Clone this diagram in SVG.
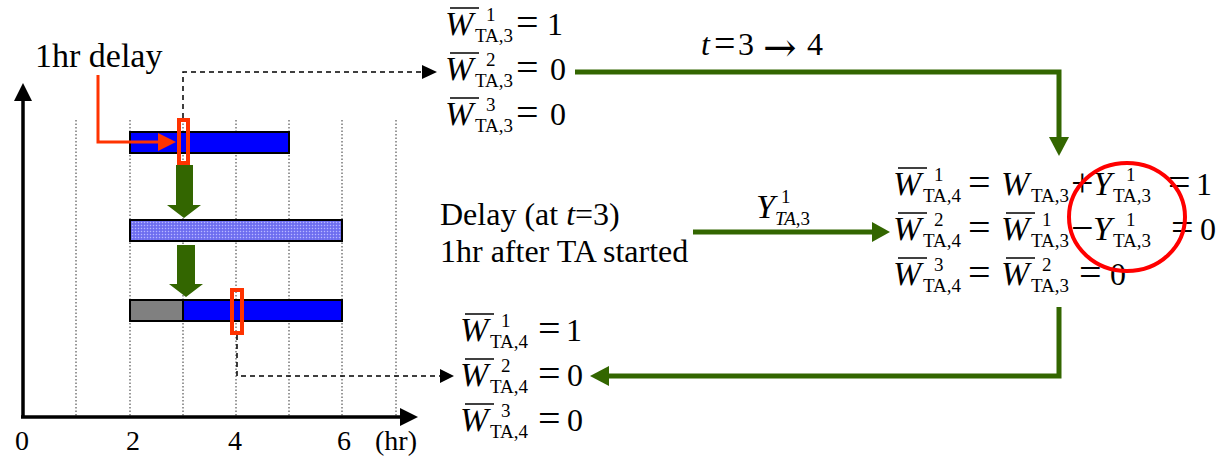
<svg xmlns="http://www.w3.org/2000/svg" width="1224" height="460" viewBox="0 0 1224 460" font-family="'Liberation Serif', 'Times New Roman', serif">
<style>
.t{font-family:"Liberation Serif","Times New Roman",serif;fill:#000}
.m{font-size:34px}
.e{font-size:40px}
.e2{font-size:38px}
.d{font-size:32px}
.s{font-size:19px}
.i{font-style:italic}
.lbl{font-size:32px}
.big{font-size:34px}
.ax{font-size:28px}
.arr{font-family:"DejaVu Serif","DejaVu Sans",serif;font-size:40px;fill:#000}
.ob{stroke:#000;stroke-width:1.5}
.grid{stroke:#333;stroke-width:1;stroke-dasharray:1.5,2}
.bar{stroke:#000;stroke-width:2}
.red{fill:none;stroke:#ff3300;stroke-width:4}
.dash{fill:none;stroke:#000;stroke-width:1.5;stroke-dasharray:5,4}
.gl{fill:none;stroke:#336600;stroke-width:5}
.gf{fill:#336600}
</style>
<defs>
<pattern id="dots" width="3" height="3" patternUnits="userSpaceOnUse">
<rect width="3" height="3" fill="#7a7af4"/>
<rect x="0" y="0" width="1" height="1" fill="#b8b8ff"/>
<rect x="1.5" y="1.5" width="1" height="1" fill="#4a4ae2"/>
</pattern>
</defs>

<g id="chart">
<g id="grid">
<line class="grid" x1="76" y1="120" x2="76" y2="416"/>
<line class="grid" x1="130" y1="120" x2="130" y2="416"/>
<line class="grid" x1="183" y1="120" x2="183" y2="416"/>
<line class="grid" x1="236" y1="120" x2="236" y2="416"/>
<line class="grid" x1="289" y1="120" x2="289" y2="416"/>
<line class="grid" x1="342" y1="120" x2="342" y2="416"/>
<line class="grid" x1="396" y1="120" x2="396" y2="416"/>
</g>
<g id="axes">
<line x1="23" y1="418" x2="23" y2="98" stroke="#000" stroke-width="3.5"/>
<polygon points="23,83 14,101 32,101" fill="#000"/>
<line x1="21" y1="417" x2="402" y2="417" stroke="#000" stroke-width="3.5"/>
<polygon points="418,417 400,408 400,426" fill="#000"/>
<text class="t ax" x="15" y="450">0</text>
<text class="t ax" x="126" y="450">2</text>
<text class="t ax" x="228" y="450">4</text>
<text class="t ax" x="337" y="450">6</text>
<text class="t ax" x="375" y="450">(hr)</text>
</g>
<g id="bar1"><rect class="bar" x="130" y="132" width="159" height="21" fill="#0000ff"/></g>
<g id="bar2"><rect class="bar" x="130" y="220" width="212" height="21" fill="url(#dots)"/></g>
<g id="bar3">
<rect class="bar" x="130" y="300" width="53" height="21" fill="#808080"/>
<rect class="bar" x="183" y="300" width="159" height="21" fill="#0000ff"/>
</g>
<g id="redbox1"><rect class="red" x="179" y="120" width="9" height="43"/></g>
<g id="redbox2"><rect class="red" x="232" y="290" width="10" height="43"/></g>
<g id="bigarrow1"><polygon class="gf" points="176,165 193,165 193,205 201,205 184,218 167,205 176,205"/></g>
<g id="bigarrow2"><polygon class="gf" points="177,245 195,245 195,284 203,284 186,297 169,284 177,284"/></g>
<g id="delaylabel">
<text class="t big" x="35" y="67">1hr delay</text>
</g>
</g>

<g id="connectors">
<polyline points="98,75 98,142 160,142" fill="none" stroke="#ff3300" stroke-width="3"/>
<polygon points="158,133 176,142 158,151" fill="#ff3300"/>
<polyline class="dash" points="183,118 183,72 424,72"/>
<polygon points="422,65 437,72 422,79" fill="#000"/>
<polyline class="dash" points="237,335 237,376 442,376"/>
<polygon points="440,369 454,376 440,383" fill="#000"/>
<polyline class="gl" points="575,72 1059,72 1059,138"/>
<polygon class="gf" points="1049,137 1069,137 1059,156"/>
<line class="gl" x1="693" y1="232" x2="873" y2="232"/>
<polygon class="gf" points="872,222 890,232 872,242"/>
<polyline class="gl" points="1059,307 1059,376 608,376"/>
<polygon class="gf" points="609,366 590,376 609,386"/>
<g id="tlabel">
<text class="t d i" x="701" y="55">t</text>
<text class="t e2" x="714" y="56">=</text>
<text class="t d" x="738" y="55">3</text>
<text class="arr" x="763" y="61">→</text>
<text class="t d" x="807" y="55">4</text>
</g>
<g id="ylabel">
<text class="t m i" x="756" y="218">Y</text>
<text class="t s" x="781" y="203">1</text>
<text class="t s i" x="775" y="225">TA<tspan font-style="normal">,3</tspan></text>
</g>
</g>

<g id="eq-top">
<line class="ob" x1="450" y1="8" x2="479" y2="8"/>
<text class="t m i" x="445" y="35">W</text><text class="t s" x="486" y="21">1</text><text class="t s" x="475" y="42">TA,3</text>
<text class="t e" x="516" y="36">=</text><text class="t d" x="547" y="35">1</text>
<line class="ob" x1="450" y1="53" x2="479" y2="53"/>
<text class="t m i" x="445" y="80">W</text><text class="t s" x="486" y="66">2</text><text class="t s" x="475" y="87">TA,3</text>
<text class="t e" x="516" y="81">=</text><text class="t d" x="550" y="80">0</text>
<line class="ob" x1="450" y1="98" x2="479" y2="98"/>
<text class="t m i" x="445" y="125">W</text><text class="t s" x="486" y="111">3</text><text class="t s" x="475" y="132">TA,3</text>
<text class="t e" x="516" y="126">=</text><text class="t d" x="550" y="125">0</text>
</g>

<g id="delay-note">
<text class="t lbl" x="440" y="225">Delay (at <tspan font-style="italic">t</tspan>=3)</text>
<text class="t lbl" x="440" y="262">1hr after TA started</text>
</g>

<g id="eq-right">
<line class="ob" x1="898" y1="168" x2="927" y2="168"/>
<text class="t m i" x="893" y="195">W</text><text class="t s" x="934" y="181">1</text><text class="t s" x="923" y="202">TA,4</text>
<text class="t e" x="968" y="196">=</text>
<text class="t m i" x="1001" y="195">W</text><text class="t s" x="1031" y="202">TA,3</text>
<text class="t e" x="1071" y="196">+</text>
<text class="t m i" x="1093" y="195">Y</text><text class="t s" x="1126" y="181">1</text><text class="t s" x="1113" y="202">TA,3</text>
<text class="t e" x="1168" y="196">=</text><text class="t d" x="1196" y="195">1</text>

<line class="ob" x1="898" y1="213" x2="927" y2="213"/>
<text class="t m i" x="893" y="240">W</text><text class="t s" x="934" y="226">2</text><text class="t s" x="923" y="247">TA,4</text>
<text class="t e" x="968" y="241">=</text>
<line class="ob" x1="1006" y1="213" x2="1035" y2="213"/>
<text class="t m i" x="1001" y="240">W</text><text class="t s" x="1042" y="226">1</text><text class="t s" x="1031" y="247">TA,3</text>
<text class="t e" x="1071" y="241">−</text>
<text class="t m i" x="1093" y="240">Y</text><text class="t s" x="1126" y="226">1</text><text class="t s" x="1113" y="247">TA,3</text>
<text class="t e" x="1171" y="241">=</text><text class="t d" x="1200" y="240">0</text>

<line class="ob" x1="898" y1="258" x2="927" y2="258"/>
<text class="t m i" x="893" y="285">W</text><text class="t s" x="934" y="271">3</text><text class="t s" x="923" y="292">TA,4</text>
<text class="t e" x="968" y="286">=</text>
<line class="ob" x1="1006" y1="258" x2="1035" y2="258"/>
<text class="t m i" x="1001" y="285">W</text><text class="t s" x="1042" y="271">2</text><text class="t s" x="1031" y="292">TA,3</text>
<text class="t e" x="1079" y="286">=</text><text class="t d" x="1110" y="285">0</text>
<ellipse cx="1127" cy="217" rx="58" ry="54" fill="none" stroke="#ff0000" stroke-width="4"/>
</g>

<g id="eq-bottom">
<line class="ob" x1="465" y1="314" x2="494" y2="314"/>
<text class="t m i" x="460" y="341">W</text><text class="t s" x="501" y="327">1</text><text class="t s" x="490" y="348">TA,4</text>
<text class="t e" x="538" y="342">=</text><text class="t d" x="566" y="341">1</text>
<line class="ob" x1="465" y1="359" x2="494" y2="359"/>
<text class="t m i" x="460" y="386">W</text><text class="t s" x="501" y="372">2</text><text class="t s" x="490" y="393">TA,4</text>
<text class="t e" x="538" y="387">=</text><text class="t d" x="567" y="386">0</text>
<line class="ob" x1="465" y1="404" x2="494" y2="404"/>
<text class="t m i" x="460" y="431">W</text><text class="t s" x="501" y="417">3</text><text class="t s" x="490" y="438">TA,4</text>
<text class="t e" x="538" y="432">=</text><text class="t d" x="567" y="431">0</text>
</g>
</svg>
